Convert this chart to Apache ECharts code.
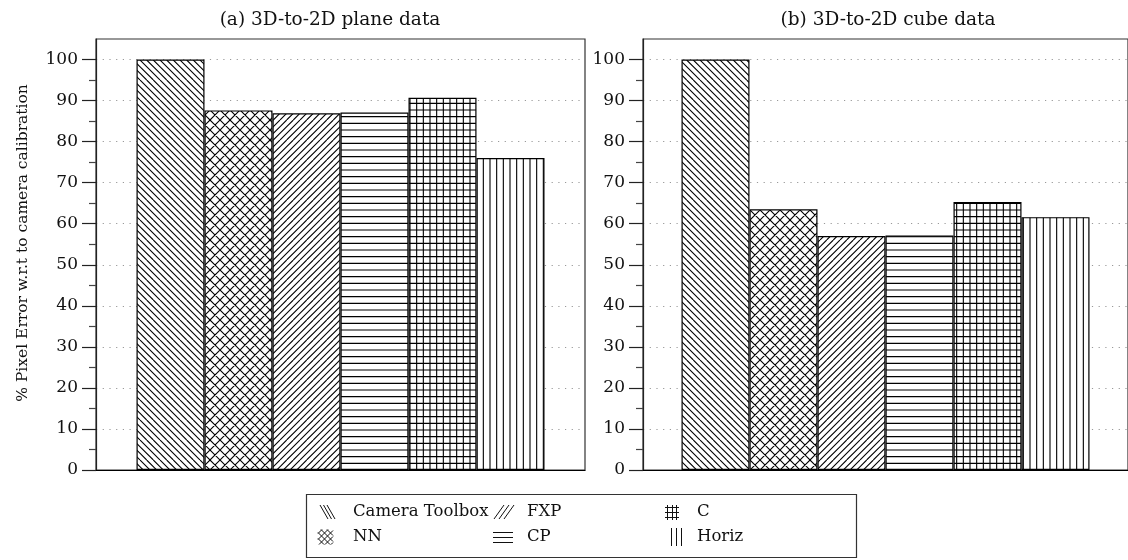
<!DOCTYPE html>
<html>
<head>
<meta charset="utf-8">
<script src="https://cdn.jsdelivr.net/npm/echarts@6/dist/echarts.min.js"></script>
<style>
  html, body { margin: 0; padding: 0; background: #fff; }
  #chart { width: 1128px; height: 560px; }
</style>
</head>
<body>
<div id="chart"></div>
<script>
// Methods compared, in bar order
const methods = ['Camera Toolbox', 'NN', 'FXP', 'CP', 'C', 'Horiz'];
// % pixel error relative to camera calibration
const planeData = [100, 87.6, 86.9, 87.1, 90.7, 76.0];
const cubeData = [100, 63.5, 57.0, 57.1, 65.3, 61.6];
const panelTitles = ['(a) 3D-to-2D plane data', '(b) 3D-to-2D cube data'];
const majorTicks = [0, 10, 20, 30, 40, 50, 60, 70, 80, 90, 100];
const minorTicks = [5, 15, 25, 35, 45, 55, 65, 75, 85, 95];
const yAxisTitle = '% Pixel Error w.r.t to camera calibration';
const hatchKinds = ['nwlines', 'crossdiag', 'nelines', 'hlines', 'grid', 'vlines'];

const FONT = '"DejaVu Serif", "Liberation Serif", serif';
const INK = '#111';

// Hatch fill tiles (white ground, black strokes)
function hatch(kind) {
  const s = 20, p = s / 3;
  const c = document.createElement('canvas');
  c.width = s; c.height = s;
  const g = c.getContext('2d');
  g.fillStyle = '#fff';
  g.fillRect(0, 0, s, s);
  g.strokeStyle = '#000';
  g.lineWidth = 1.1;
  g.beginPath();
  if (kind === 'nwlines') {
    for (let k = -3; k <= 3; k++) { g.moveTo(k * p, 0); g.lineTo(k * p + s, s); }
  } else if (kind === 'nelines') {
    for (let k = -3; k <= 3; k++) { g.moveTo(k * p, s); g.lineTo(k * p + s, 0); }
  } else if (kind === 'crossdiag') {
    for (let k = -2; k <= 2; k++) {
      g.moveTo(k * 10, 0); g.lineTo(k * 10 + s, s);
      g.moveTo(k * 10, s); g.lineTo(k * 10 + s, 0);
    }
  } else if (kind === 'hlines' || kind === 'grid') {
    for (let k = 0; k < 3; k++) { const y = k * p + p / 2; g.moveTo(0, y); g.lineTo(s, y); }
  }
  if (kind === 'vlines' || kind === 'grid') {
    for (let k = 0; k < 3; k++) { const x = k * p + p / 2; g.moveTo(x, 0); g.lineTo(x, s); }
  }
  g.stroke();
  return { image: c, repeat: 'repeat' };
}
const fills = hatchKinds.map(hatch);

const grids = [
  { left: 96, top: 39, width: 489, height: 431 },
  { left: 643, top: 39, width: 489, height: 431 }
];

function xAxisFor(gi) {
  return {
    type: 'category', gridIndex: gi, data: [''],
    axisLine: { show: true, lineStyle: { color: '#000', width: 1.2 } },
    axisTick: { show: false }, axisLabel: { show: false }, splitLine: { show: false }
  };
}

function yAxesFor(gi) {
  return [
    {
      type: 'value', gridIndex: gi, min: 0, max: 105, position: 'left',
      axisLine: { show: true, lineStyle: { color: '#222', width: 1.2 } },
      axisTick: { show: true, inside: false, length: 14, customValues: majorTicks,
        lineStyle: { color: '#222', width: 1.2 } },
      axisLabel: { customValues: majorTicks, fontFamily: FONT, fontSize: 17, color: INK, margin: 18 },
      splitLine: { show: true, lineStyle: { color: '#999', width: 1, type: [1.2, 5.5] } }
    },
    {
      type: 'value', gridIndex: gi, min: 0, max: 105, position: 'left',
      axisLine: { show: false },
      axisTick: { show: true, inside: false, length: 7, customValues: minorTicks,
        lineStyle: { color: '#444', width: 1.2 } },
      axisLabel: { show: false }, splitLine: { show: false }
    }
  ];
}

function panelSeries(values, gi) {
  return methods.map((m, i) => ({
    type: 'bar', name: m, xAxisIndex: gi, yAxisIndex: gi * 2,
    barWidth: 68, barGap: '0%', silent: true,
    data: [values[i]],
    itemStyle: { color: fills[i], borderColor: '#000', borderWidth: 1.2 },
    emphasis: { disabled: true }
  }));
}

// Small hatch glyphs used as legend keys: lists of [x1, y1, x2, y2] relative to the key origin
function clipDiag(size, c, dir) {
  // segment of x - y = c (dir 1) or x + y = c (dir -1) inside [0,size]^2
  if (dir === 1) return [Math.max(0, c), Math.max(0, -c), Math.min(size, size + c), Math.min(size, size - c)];
  return [Math.max(0, c - size), Math.min(size, c), Math.min(size, c), Math.max(0, c - size)];
}
const legendGlyphs = [
  [0, 1, 2].map(k => [k * 3.5, -7, k * 3.5 + 8, 7]),
  [...[-9, -3, 3, 9].map(c => clipDiag(15, c, 1)), ...[4, 10, 16, 22, 28].map(c => clipDiag(15, c, -1))]
    .map(s => [s[0], s[1] - 7.5, s[2], s[3] - 7.5]),
  [0, 1, 2].map(k => [k * 5, 7, k * 5 + 10, -7]),
  [-4.5, 0.5, 5.5].map(d => [0, d, 20, d]),
  [...[-4.5, 0.5, 5.5].map(d => [0, d, 14, d]), ...[2.5, 7.5, 11.5].map(d => [d, -7, d, 8])],
  [0.5, 5.5, 10.5].map(d => [d, -9, d, 9])
];
const legendKeyX = [320, 318, 494, 493, 665, 671];

// Legend: boxed, three columns by two rows
const legendTextCols = [353, 527, 697];
const legendRows = [512, 537];
const legendGraphics = [{
  type: 'rect', z: 10,
  shape: { x: 306.5, y: 494.5, width: 550, height: 63 },
  style: { fill: '#fff', stroke: '#333', lineWidth: 1.2 }
}];
methods.forEach((m, i) => {
  const col = Math.floor(i / 2), row = i % 2;
  const ox = legendKeyX[i], oy = legendRows[row];
  legendGlyphs[i].forEach(seg => {
    legendGraphics.push({
      type: 'line', z: 11,
      shape: { x1: ox + seg[0], y1: oy + seg[1], x2: ox + seg[2], y2: oy + seg[3] },
      style: { stroke: '#111', lineWidth: 1 }
    });
  });
  legendGraphics.push({
    type: 'text', z: 11, x: legendTextCols[col], y: legendRows[row],
    style: { text: m, font: '16.5px ' + FONT, fill: INK,
      align: 'left', textAlign: 'left', verticalAlign: 'middle', textVerticalAlign: 'middle' }
  });
});

const titleGraphics = [
  { type: 'text', x: 330, y: 20,
    style: { text: panelTitles[0], font: '18.5px ' + FONT, fill: INK,
      align: 'center', textAlign: 'center', verticalAlign: 'middle', textVerticalAlign: 'middle' } },
  { type: 'text', x: 888, y: 20,
    style: { text: panelTitles[1], font: '18.5px ' + FONT, fill: INK,
      align: 'center', textAlign: 'center', verticalAlign: 'middle', textVerticalAlign: 'middle' } },
  { type: 'text', x: 23, y: 243, rotation: Math.PI / 2,
    style: { text: yAxisTitle, font: '15.5px ' + FONT, fill: INK,
      align: 'center', textAlign: 'center', verticalAlign: 'middle', textVerticalAlign: 'middle' } }
];

const chart = echarts.init(document.getElementById('chart'), null, { renderer: 'canvas' });
chart.setOption({
  animation: false,
  backgroundColor: '#fff',
  grid: grids.map(g => Object.assign({ show: true, borderColor: '#333', borderWidth: 1.2,
    backgroundColor: 'transparent' }, g)),
  xAxis: [xAxisFor(0), xAxisFor(1)],
  yAxis: [...yAxesFor(0), ...yAxesFor(1)],
  series: [...panelSeries(planeData, 0), ...panelSeries(cubeData, 1)],
  graphic: [...titleGraphics, ...legendGraphics]
});
</script>
</body>
</html>
